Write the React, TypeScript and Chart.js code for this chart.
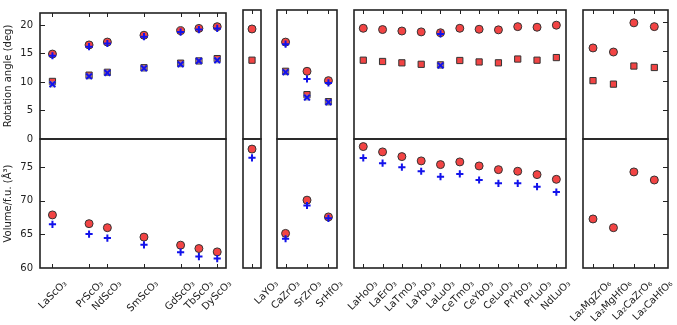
import React, { useEffect, useRef } from 'react';
import { Chart, registerables } from 'chart.js';

Chart.register(...registerables);
Chart.defaults.font.family = "'DejaVu Sans', sans-serif";

// ---------------- data ----------------
// Scandates: slot = place of the A-site lanthanide in the La..Dy series
const scLabels = ['LaScO₃', 'PrScO₃', 'NdScO₃', 'SmScO₃', 'GdScO₃', 'TbScO₃', 'DyScO₃'];
const scSlots = [0, 2, 3, 5, 7, 8, 9];
const scAngle1 = [14.9, 16.5, 17.0, 18.2, 19.0, 19.4, 19.7];
const scAngle1Calc = [14.6, 16.2, 16.75, 17.95, 18.75, 19.2, 19.4];
const scAngle2 = [10.1, 11.2, 11.7, 12.5, 13.3, 13.7, 14.1];
const scAngle2Calc = [9.6, 11.0, 11.6, 12.4, 13.1, 13.7, 13.8];
const scVolume = [67.9, 66.6, 66.0, 64.6, 63.4, 62.9, 62.4];
const scVolumeCalc = [66.5, 65.05, 64.45, 63.45, 62.35, 61.7, 61.4];

const yoLabels = ['LaYO₃'];
const yoSlots = [0];
const yoAngle1 = [18.85];
const yoAngle1Calc = [null];
const yoAngle2 = [13.5];
const yoAngle2Calc = [null];
const yoVolume = [77.7];
const yoVolumeCalc = [76.4];

const zrLabels = ['CaZrO₃', 'SrZrO₃', 'SrHfO₃'];
const zrSlots = [0, 1, 2];
const zrAngle1 = [16.6, 11.6, 10.0];
const zrAngle1Calc = [16.25, 10.3, 9.6];
const zrAngle2 = [11.6, 7.6, 6.4];
const zrAngle2Calc = [11.45, 7.1, 6.3];
const zrVolume = [65.15, 70.1, 67.6];
const zrVolumeCalc = [64.35, 69.3, 67.4];

const lnLabels = ['LaHoO₃', 'LaErO₃', 'LaTmO₃', 'LaYbO₃', 'LaLuO₃', 'CeTmO₃', 'CeYbO₃', 'CeLuO₃', 'PrYbO₃', 'PrLuO₃', 'NdLuO₃'];
const lnSlots = [0, 1, 2, 3, 4, 5, 6, 7, 8, 9, 10];
const lnAngle1 = [18.97, 18.75, 18.5, 18.35, 18.2, 18.97, 18.8, 18.7, 19.25, 19.15, 19.5];
const lnAngle1Calc = [null, null, null, null, 18.0, null, null, null, null, null, null];
const lnAngle2 = [13.5, 13.28, 13.05, 12.8, 12.7, 13.45, 13.2, 13.05, 13.7, 13.5, 13.95];
const lnAngle2Calc = [null, null, null, null, 12.6, null, null, null, null, null, null];
const lnVolume = [78.07, 77.28, 76.58, 75.94, 75.39, 75.79, 75.19, 74.64, 74.4, 73.9, 73.2];
const lnVolumeCalc = [76.39, 75.6, 75.0, 74.4, 73.6, 74.0, 73.1, 72.6, 72.6, 72.1, 71.3];

const dpLabels = ['La₂MgZrO₆', 'La₂MgHfO₆', 'La₂CaZrO₆', 'La₂CaHfO₆'];
const dpSlots = [0, 1, 2, 3];
const dpAngle1 = [15.6, 14.9, 19.9, 19.25];
const dpAngle1Calc = [null, null, null, null];
const dpAngle2 = [10.0, 9.4, 12.5, 12.25];
const dpAngle2Calc = [null, null, null, null];
const dpVolume = [67.3, 66.0, 74.3, 73.1];
const dpVolumeCalc = [null, null, null, null];

const angleTicks = [0, 5, 10, 15, 20];
const volumeTicks = [60, 65, 70, 75];
const angleTitle = 'Rotation angle (deg)';
const volumeTitle = 'Volume/f.u. (Å³)';

// ---------------- layout / style ----------------
const W = 677;
const H = 325;
const TOP = 10;
const MID = 139;
const BOT = 268;
const ANGLE_RANGE = [0, 22.1];
const VOLUME_RANGE = [60, 79.2];

const RED = 'rgb(242,68,68)';
const EDGE = '#333';
const BLUE = 'rgb(18,18,235)';
const INK = '#222';

type Panel = {
  labels: string[]; slots: number[];
  a1: (number | null)[]; a1c: (number | null)[]; a2: (number | null)[]; a2c: (number | null)[];
  v: (number | null)[]; vc: (number | null)[];
  left: number; right: number; xMin: number; xMax: number;
  yAxis: boolean; ySide: 'left' | 'right' | null; labelOffset: number;
};

const panels: Panel[] = [
  { labels: scLabels, slots: scSlots, a1: scAngle1, a1c: scAngle1Calc, a2: scAngle2, a2c: scAngle2Calc, v: scVolume, vc: scVolumeCalc,
    left: 40, right: 226, xMin: -0.68, xMax: 9.48, yAxis: true, ySide: 'left', labelOffset: 13 },
  { labels: yoLabels, slots: yoSlots, a1: yoAngle1, a1c: yoAngle1Calc, a2: yoAngle2, a2c: yoAngle2Calc, v: yoVolume, vc: yoVolumeCalc,
    left: 243, right: 261, xMin: -0.5, xMax: 0.5, yAxis: false, ySide: null, labelOffset: 25 },
  { labels: zrLabels, slots: zrSlots, a1: zrAngle1, a1c: zrAngle1Calc, a2: zrAngle2, a2c: zrAngle2Calc, v: zrVolume, vc: zrVolumeCalc,
    left: 277, right: 337, xMin: -0.4, xMax: 2.4, yAxis: false, ySide: null, labelOffset: 13 },
  { labels: lnLabels, slots: lnSlots, a1: lnAngle1, a1c: lnAngle1Calc, a2: lnAngle2, a2c: lnAngle2Calc, v: lnVolume, vc: lnVolumeCalc,
    left: 354, right: 566, xMin: -0.48, xMax: 10.5, yAxis: false, ySide: null, labelOffset: 13 },
  { labels: dpLabels, slots: dpSlots, a1: dpAngle1, a1c: dpAngle1Calc, a2: dpAngle2, a2c: dpAngle2Calc, v: dpVolume, vc: dpVolumeCalc,
    left: 583, right: 668, xMin: -0.49, xMax: 3.67, yAxis: false, ySide: 'right', labelOffset: 17 },
];

const framePlugin = {
  id: 'frame',
  afterDraw(chart: any, _args: any, opts: any) {
    const { ctx, chartArea: a } = chart;
    const xs = chart.scales.x;
    const ys = chart.scales.y;
    ctx.save();
    ctx.strokeStyle = INK;
    ctx.lineWidth = 1;
    ctx.beginPath();
    for (const s of opts.xTicks as number[]) {
      const px = Math.round(xs.getPixelForValue(s)) + 0.5;
      if (opts.xSide === 'top') { ctx.moveTo(px, a.top); ctx.lineTo(px, a.top + 4); }
      else { ctx.moveTo(px, a.bottom); ctx.lineTo(px, a.bottom - 4); }
    }
    if (opts.ySide) {
      for (const t of opts.yTicks as number[]) {
        const py = Math.round(ys.getPixelForValue(t)) + 0.5;
        if (py <= a.top + 1 || py >= a.bottom - 1) continue;
        if (opts.ySide === 'left') { ctx.moveTo(a.left, py); ctx.lineTo(a.left + 5, py); }
        else { ctx.moveTo(a.right, py); ctx.lineTo(a.right - 5, py); }
      }
    }
    ctx.stroke();
    ctx.lineWidth = 1.6;
    ctx.strokeRect(a.left, a.top, a.right - a.left, a.bottom - a.top);
    ctx.restore();
  },
};

function pts(slots: number[], vals: (number | null)[]) {
  const out: { x: number; y: number }[] = [];
  vals.forEach((v, i) => { if (v != null) out.push({ x: slots[i], y: v }); });
  return out;
}

function buildConfig(p: Panel, bottomRow: boolean): any {
  const circle = (data: any, order: number) => ({
    data, order, pointStyle: 'circle', pointRadius: 4, pointHoverRadius: 4,
    pointBackgroundColor: RED, pointBorderColor: EDGE, pointBorderWidth: 1,
  });
  const plus = (data: any, order: number) => ({
    data, order, pointStyle: 'cross', pointRadius: 3.6, pointHoverRadius: 3.6,
    pointBackgroundColor: BLUE, pointBorderColor: BLUE, pointBorderWidth: 2,
  });
  const datasets: any[] = bottomRow
    ? [circle(pts(p.slots, p.v), 2), plus(pts(p.slots, p.vc), 1)]
    : [
        circle(pts(p.slots, p.a1), 5),
        { data: pts(p.slots, p.a2), order: 4, pointStyle: 'rect', pointRadius: 4.4, pointHoverRadius: 4.4,
          pointBackgroundColor: RED, pointBorderColor: EDGE, pointBorderWidth: 1 },
        { data: pts(p.slots, p.a2c), order: 3, pointStyle: 'rect', pointRadius: 4.6, pointHoverRadius: 4.6,
          pointBackgroundColor: 'rgba(140,140,165,0.6)', pointBorderColor: 'rgba(0,0,0,0)', pointBorderWidth: 0 },
        { data: pts(p.slots, p.a2c), order: 2, pointStyle: 'crossRot', pointRadius: 4, pointHoverRadius: 4,
          pointBackgroundColor: BLUE, pointBorderColor: BLUE, pointBorderWidth: 2 },
        plus(pts(p.slots, p.a1c), 1),
      ];
  const range = bottomRow ? VOLUME_RANGE : ANGLE_RANGE;
  const yTicks = bottomRow ? volumeTicks : angleTicks;
  const padding = {
    left: p.yAxis ? 0 : p.left,
    right: W - p.right,
    top: bottomRow ? MID : TOP,
    bottom: bottomRow ? 0 : H - MID,
  };
  const xScale: any = {
    type: 'linear', position: 'bottom', min: p.xMin, max: p.xMax, display: bottomRow,
    grid: { display: false, drawTicks: false }, border: { display: false },
    afterBuildTicks: (s: any) => { s.ticks = p.slots.map((v) => ({ value: v })); },
    ticks: {
      autoSkip: false, minRotation: 45, maxRotation: 45, padding: 10, labelOffset: p.labelOffset,
      font: { size: 10 }, color: INK,
      callback: (_v: any, i: number) => p.labels[i],
    },
  };
  if (bottomRow) xScale.afterFit = (s: any) => { s.height = H - BOT; };
  const yScale: any = {
    type: 'linear', position: 'left', min: range[0], max: range[1], display: p.yAxis,
    grid: { display: false, drawTicks: false }, border: { display: false },
    afterBuildTicks: (s: any) => { s.ticks = yTicks.map((v) => ({ value: v })); },
    ticks: { padding: 7, font: { size: 10 }, color: INK },
    title: {
      display: true, text: bottomRow ? volumeTitle : angleTitle,
      font: { size: 10 }, color: INK, padding: { top: 2, bottom: 0 },
    },
  };
  if (p.yAxis) yScale.afterFit = (s: any) => { s.width = p.left; };
  return {
    type: 'scatter',
    data: { datasets },
    plugins: [framePlugin],
    options: {
      animation: false,
      responsive: false,
      devicePixelRatio: 1,
      events: [],
      layout: { padding },
      plugins: {
        legend: { display: false },
        tooltip: { enabled: false },
        frame: { xTicks: p.slots, xSide: bottomRow ? 'bottom' : 'top', ySide: p.ySide, yTicks },
      },
      scales: { x: xScale, y: yScale },
    },
  };
}

function PanelChart({ panel, bottomRow }: { panel: Panel; bottomRow: boolean }) {
  const ref = useRef<HTMLCanvasElement>(null);
  useEffect(() => {
    const chart = new Chart(ref.current as HTMLCanvasElement, buildConfig(panel, bottomRow));
    return () => chart.destroy();
  }, [panel, bottomRow]);
  return (
    <canvas
      ref={ref}
      width={W}
      height={H}
      style={{ position: 'absolute', left: 0, top: 0, width: W, height: H }}
    />
  );
}

export default function App() {
  return (
    <div style={{ position: 'absolute', left: 0, top: 0, width: W, height: H, background: '#fff' }}>
      {panels.map((p, i) => (
        <React.Fragment key={i}>
          <PanelChart panel={p} bottomRow={false} />
          <PanelChart panel={p} bottomRow={true} />
        </React.Fragment>
      ))}
    </div>
  );
}
